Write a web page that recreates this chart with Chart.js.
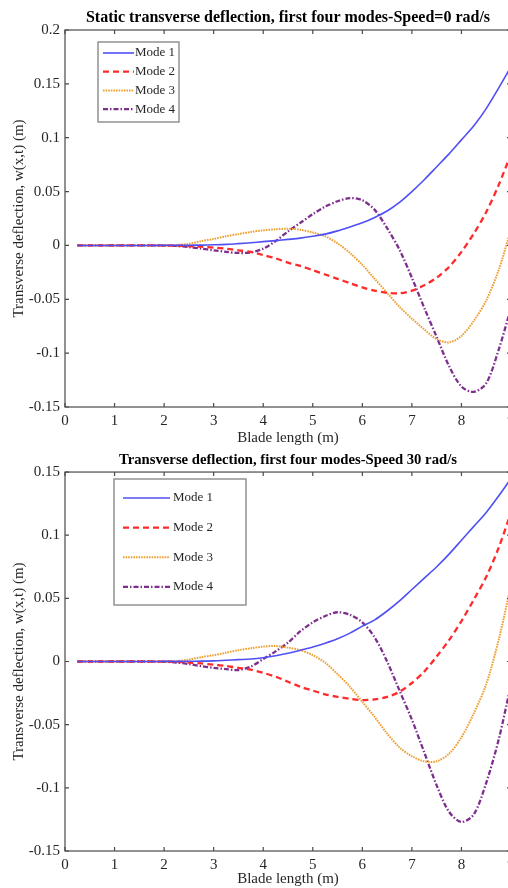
<!DOCTYPE html>
<html>
<head>
<meta charset="utf-8">
<title>Blade transverse deflection - first four modes</title>
<script src="https://cdn.jsdelivr.net/npm/chart.js@4.4.1/dist/chart.umd.min.js"></script>
<style>
  html, body { margin: 0; padding: 0; background: #fff; overflow: hidden; width: 508px; height: 888px; }
  canvas { position: absolute; left: 0; }
  #staticChart { top: 0; }
  #rotatingChart { top: 441px; }
</style>
</head>
<body>
<canvas id="staticChart" width="540" height="447"></canvas>
<canvas id="rotatingChart" width="540" height="447"></canvas>
<script>
// stations along the blade (m)
const bladeStations = [0.25, 0.5, 0.75, 1, 1.25, 1.5, 1.75, 2, 2.25, 2.5, 2.75, 3,
  3.25, 3.5, 3.75, 4, 4.25, 4.5, 4.75, 5, 5.25, 5.5, 5.75, 6,
  6.25, 6.5, 6.75, 7, 7.25, 7.5, 7.75, 8, 8.25, 8.5, 8.75, 9];

const xTicks = [0, 1, 2, 3, 4, 5, 6, 7, 8, 9];
const yTicksStatic = [-0.15, -0.1, -0.05, 0, 0.05, 0.1, 0.15, 0.2];
const yTicksRotating = [-0.15, -0.1, -0.05, 0, 0.05, 0.1, 0.15];
const modeLabels = ['Mode 1', 'Mode 2', 'Mode 3', 'Mode 4'];

// speed = 0 rad/s
const staticMode1 = [0, 0, 0, 0, 0, 0, 0, 0.0001, 0.0001, 0.0002, 0.0003, 0.0006,
  0.001, 0.0017, 0.0025, 0.0035, 0.0045, 0.0056, 0.0068, 0.0085, 0.0105, 0.0135, 0.0172, 0.021,
  0.026, 0.032, 0.040, 0.050, 0.061, 0.073, 0.085, 0.098, 0.111, 0.127, 0.146, 0.166];
const staticMode2 = [0, 0, 0, 0, 0, 0, 0, -0.0001, -0.0003, -0.0007, -0.0012, -0.002,
  -0.003, -0.0045, -0.006, -0.009, -0.012, -0.016, -0.019, -0.023, -0.027, -0.031, -0.035, -0.039,
  -0.042, -0.044, -0.0445, -0.042, -0.037, -0.030, -0.020, -0.006, 0.011, 0.031, 0.056, 0.085];
const staticMode3 = [0, 0, 0, 0, 0, 0, 0, 0.0001, 0.0004, 0.0015, 0.004, 0.006,
  0.0085, 0.0105, 0.0125, 0.014, 0.015, 0.0155, 0.0145, 0.012, 0.0085, 0.002, -0.007, -0.018,
  -0.031, -0.044, -0.057, -0.068, -0.078, -0.087, -0.090, -0.084, -0.070, -0.051, -0.023, 0.015];
const staticMode4 = [0, 0, 0, 0, 0, 0, 0, -0.0002, -0.0005, -0.0015, -0.003, -0.0045,
  -0.006, -0.007, -0.0065, -0.003, 0.004, 0.013, 0.021, 0.029, 0.036, 0.041, 0.044, 0.042,
  0.033, 0.016, -0.004, -0.030, -0.058, -0.085, -0.112, -0.131, -0.136, -0.128, -0.097, -0.058];

// speed = 30 rad/s
const rotatingMode1 = [0, 0, 0, 0, 0, 0, 0, 0.0001, 0.0001, 0.0002, 0.0003, 0.0005,
  0.001, 0.0015, 0.002, 0.003, 0.0045, 0.0065, 0.009, 0.0115, 0.0145, 0.018, 0.0225, 0.028,
  0.033, 0.040, 0.048, 0.057, 0.066, 0.075, 0.085, 0.096, 0.107, 0.118, 0.131, 0.145];
const rotatingMode2 = [0, 0, 0, 0, 0, 0, 0, -0.0001, -0.0003, -0.0008, -0.0015, -0.0025,
  -0.0035, -0.005, -0.0065, -0.009, -0.012, -0.016, -0.020, -0.023, -0.026, -0.028, -0.0295, -0.0305,
  -0.030, -0.028, -0.024, -0.017, -0.008, 0.004, 0.017, 0.032, 0.049, 0.067, 0.090, 0.118];
const rotatingMode3 = [0, 0, 0, 0, 0, 0, 0, 0.0001, 0.0003, 0.0015, 0.0035, 0.005,
  0.007, 0.009, 0.0105, 0.0118, 0.0123, 0.011, 0.009, 0.005, -0.001, -0.010, -0.020, -0.032,
  -0.044, -0.057, -0.068, -0.075, -0.079, -0.079, -0.073, -0.060, -0.041, -0.018, 0.017, 0.060];
const rotatingMode4 = [0, 0, 0, 0, 0, 0, 0, -0.0002, -0.0008, -0.002, -0.0037, -0.005,
  -0.006, -0.0067, -0.004, 0.002, 0.008, 0.015, 0.024, 0.031, 0.036, 0.039, 0.037, 0.031,
  0.019, 0.000, -0.023, -0.046, -0.072, -0.098, -0.119, -0.127, -0.121, -0.096, -0.062, -0.018];

const SERIF = "'Liberation Serif', 'Times New Roman', serif";
const TEXT_COLOR = '#262626';

const modeStyles = [
  { borderColor: '#4f4ff5', borderWidth: 1.6, borderDash: [] },
  { borderColor: '#ff2a2a', borderWidth: 2.3, borderDash: [6, 4] },
  { borderColor: '#eea035', borderWidth: 2, borderDash: [1.6, 1] },
  { borderColor: '#7e2f8e', borderWidth: 2.3, borderDash: [5, 2, 1.5, 2] }
];

function buildDatasets(series) {
  return series.map((values, i) => ({
    label: modeLabels[i],
    data: bladeStations.map((x, k) => ({ x, y: values[k] })),
    ...modeStyles[i],
    pointRadius: 0,
    fill: false,
    tension: 0.3
  }));
}

// axes box with inward tick marks on all four sides
const axesBoxPlugin = {
  id: 'axesBox',
  afterDatasetsDraw(chart, args, opts) {
    const { ctx, chartArea: a, scales: { x, y } } = chart;
    const len = opts.tickLength;
    ctx.save();
    ctx.strokeStyle = opts.color;
    ctx.lineWidth = 1.2;
    ctx.setLineDash([]);
    ctx.strokeRect(a.left, a.top, a.right - a.left, a.bottom - a.top);
    ctx.beginPath();
    x.ticks.forEach(t => {
      const px = x.getPixelForValue(t.value);
      ctx.moveTo(px, a.bottom); ctx.lineTo(px, a.bottom - len);
      ctx.moveTo(px, a.top); ctx.lineTo(px, a.top + len);
    });
    y.ticks.forEach(t => {
      const py = y.getPixelForValue(t.value);
      ctx.moveTo(a.left, py); ctx.lineTo(a.left + len, py);
      ctx.moveTo(a.right, py); ctx.lineTo(a.right - len, py);
    });
    ctx.stroke();
    ctx.restore();
  }
};

// legend box drawn inside the plot, line sample on the left of each label
const boxedLegendPlugin = {
  id: 'boxedLegend',
  afterDraw(chart, args, opts) {
    const { ctx } = chart;
    ctx.save();
    ctx.fillStyle = '#fff';
    ctx.fillRect(opts.left, opts.top, opts.width, opts.height);
    ctx.strokeStyle = '#8a8a8a';
    ctx.lineWidth = 1.4;
    ctx.strokeRect(opts.left, opts.top, opts.width, opts.height);
    ctx.font = `${opts.fontSize}px ${SERIF}`;
    ctx.textBaseline = 'middle';
    chart.data.datasets.forEach((ds, i) => {
      const rowY = opts.top + opts.firstRow + i * opts.rowGap;
      ctx.strokeStyle = ds.borderColor;
      ctx.lineWidth = ds.borderWidth;
      ctx.setLineDash(ds.borderDash);
      ctx.beginPath();
      ctx.moveTo(opts.left + opts.lineStart, rowY);
      ctx.lineTo(opts.left + opts.lineEnd, rowY);
      ctx.stroke();
      ctx.setLineDash([]);
      ctx.fillStyle = TEXT_COLOR;
      ctx.fillText(ds.label, opts.left + opts.textStart, rowY);
    });
    ctx.restore();
  }
};

function makeChart(canvasId, cfg) {
  return new Chart(document.getElementById(canvasId), {
    type: 'line',
    data: { datasets: buildDatasets(cfg.series) },
    options: {
      responsive: false,
      animation: false,
      events: [],
      layout: { padding: { left: 0, right: 29, top: 0, bottom: 0 } },
      plugins: {
        legend: { display: false },
        tooltip: { enabled: false },
        title: {
          display: true,
          text: cfg.title,
          fullSize: false,
          color: '#000',
          font: { family: SERIF, size: cfg.titleSize, weight: 'bold' },
          padding: cfg.titlePadding
        },
        axesBox: { color: '#4a4a4a', tickLength: 4 },
        boxedLegend: cfg.legend
      },
      scales: {
        x: {
          type: 'linear',
          min: 0,
          max: 9,
          grid: { display: false, drawTicks: false },
          border: { display: false },
          afterBuildTicks: scale => { scale.ticks = xTicks.map(v => ({ value: v })); },
          afterFit: scale => { scale.height = cfg.xAxisHeight; },
          ticks: {
            padding: 5,
            color: TEXT_COLOR,
            font: { family: SERIF, size: 15 },
            callback: v => String(v)
          },
          title: {
            display: true,
            text: 'Blade length (m)',
            color: TEXT_COLOR,
            font: { family: SERIF, size: 15 },
            padding: { top: 0, bottom: 0 }
          }
        },
        y: {
          min: cfg.yMin,
          max: cfg.yMax,
          grid: { display: false, drawTicks: false },
          border: { display: false },
          afterBuildTicks: scale => { scale.ticks = cfg.yTicks.map(v => ({ value: v })); },
          afterFit: scale => { scale.width = 65; },
          ticks: {
            padding: 5,
            color: TEXT_COLOR,
            font: { family: SERIF, size: 15 },
            callback: v => String(v)
          },
          title: {
            display: true,
            text: 'Transverse deflection, w(x,t) (m)',
            color: TEXT_COLOR,
            font: { family: SERIF, size: 15 },
            padding: { top: 10, bottom: 0 }
          }
        }
      }
    },
    plugins: [axesBoxPlugin, boxedLegendPlugin]
  });
}

makeChart('staticChart', {
  title: 'Static transverse deflection, first four modes-Speed=0 rad/s',
  titleSize: 16,
  series: [staticMode1, staticMode2, staticMode3, staticMode4],
  yMin: -0.15,
  yMax: 0.2,
  yTicks: yTicksStatic,
  titlePadding: { top: 8.4, bottom: 2.4 },
  xAxisHeight: 40,
  legend: { left: 98, top: 42, width: 81, height: 80, firstRow: 11, rowGap: 18.7,
            lineStart: 5, lineEnd: 36, textStart: 37, fontSize: 13 }
});

makeChart('rotatingChart', {
  title: 'Transverse deflection, first four modes-Speed 30 rad/s',
  titleSize: 14.7,
  series: [rotatingMode1, rotatingMode2, rotatingMode3, rotatingMode4],
  yMin: -0.15,
  yMax: 0.15,
  yTicks: yTicksRotating,
  titlePadding: { top: 10.2, bottom: 3.2 },
  xAxisHeight: 37,
  legend: { left: 114, top: 38, width: 132, height: 126, firstRow: 19, rowGap: 29.6,
            lineStart: 9, lineEnd: 56, textStart: 59, fontSize: 13 }
});
</script>
</body>
</html>
